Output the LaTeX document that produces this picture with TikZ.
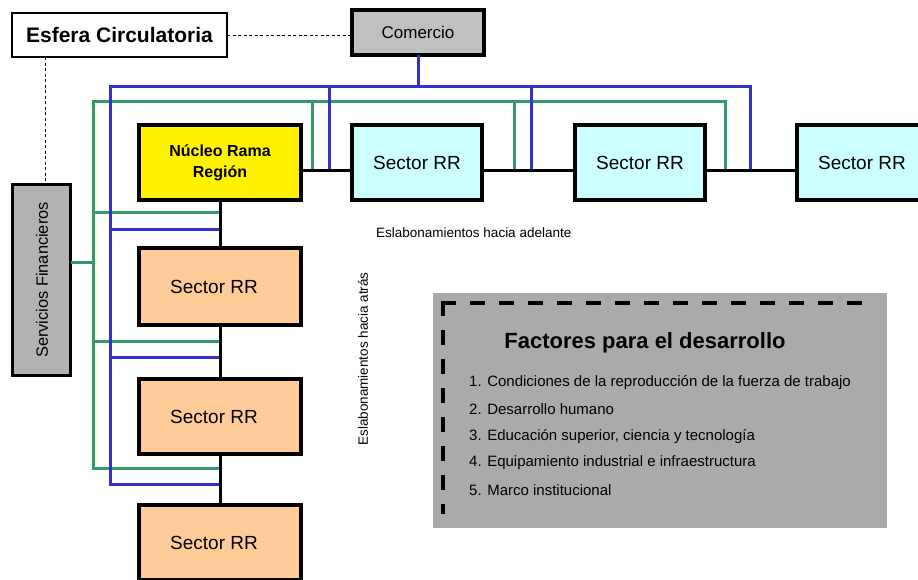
\documentclass[tikz,border=0pt]{standalone}
\usepackage{fontspec}
\setmainfont{Liberation Sans}
\definecolor{blu}{RGB}{51,51,204}
\definecolor{grn}{RGB}{51,153,102}
\definecolor{cyanf}{RGB}{204,255,255}
\definecolor{orangef}{RGB}{255,204,153}
\definecolor{grayc}{RGB}{192,192,192}
\definecolor{grays}{RGB}{178,178,178}
\definecolor{grayf}{RGB}{170,170,170}
\begin{document}
\begin{tikzpicture}[x=1pt,y=-1pt,
  box/.style={draw=black,inner sep=0pt,outer sep=0pt,align=center},
  sectc/.style={box,line width=4pt,fill=cyanf,minimum width=130pt,minimum height=75pt,font=\fontsize{19}{22}\selectfont},
  secto/.style={box,line width=4pt,fill=orangef,minimum width=162pt,minimum height=77pt,font=\fontsize{19}{22}\selectfont},
  bline/.style={draw=blu,line width=3pt},
  gline/.style={draw=grn,line width=3pt},
  chain/.style={draw=black,line width=3pt},
  thindash/.style={draw=black,line width=0.8pt,dash pattern=on 3pt off 2.5pt},
  item/.style={anchor=west,inner sep=0pt,font=\fontsize{15}{18}\selectfont}
]
\useasboundingbox (0,0) rectangle (918,579);
\clip (0,0) rectangle (918,579);

% boxes
\node[box,line width=2pt,fill=white,minimum width=215pt,minimum height=44pt,font=\fontsize{21}{25}\selectfont\bfseries] (esf) at (119.5,35) {Esfera Circulatoria};
\node[box,line width=4pt,fill=grayc,minimum width=132pt,minimum height=45pt,font=\fontsize{17}{20}\selectfont] (com) at (418,32.5) {Comercio};
\node[box,line width=3pt,fill=grays,minimum width=58pt,minimum height=191pt] (serv) at (41.5,280) {};
\node[rotate=90,inner sep=0pt,font=\fontsize{16.4}{19}\selectfont] (servt) at (42,280) {Servicios Financieros};

\coordinate (dx) at (45,0);
\draw[thindash] (esf.east) -- (esf.east -| com.west);
\draw[thindash] (esf.south -| dx) -- (serv.north -| dx);

% network lines (drawn under the boxes)
\coordinate (yc) at (0,170);
\coordinate (yg) at (0,101);
\coordinate (yb) at (0,86);
\coordinate (xg) at (93,0);
\coordinate (xb) at (110,0);
\coordinate (xv) at (220,0);

% green
\draw[gline] (xv |- 0,468) -- (xg |- 0,468) -- (xg |- yg) -- (725,101) -- (725,170);
\draw[gline] (312,101) -- (312,170);
\draw[gline] (514,101) -- (514,170);
\draw[gline] (xg |- 0,212) -- (xv |- 0,212);
\draw[gline] (xg |- 0,341) -- (xv |- 0,341);
\draw[gline] (serv.east |- 0,262) -- (xg |- 0,262);

% blue
\draw[bline] (xv |- 0,484) -- (xb |- 0,484) -- (xb |- yb) -- (750,86) -- (750,170);
\draw[bline] (329,86) -- (329,170);
\draw[bline] (531,86) -- (531,170);
\draw[bline] (com.south) -- (com.south |- yb);
\draw[bline] (xb |- 0,229) -- (xv |- 0,229);
\draw[bline] (xb |- 0,357) -- (xv |- 0,357);

% main boxes
\node[box,line width=4pt,fill=yellow,minimum width=162pt,minimum height=75pt,font=\fontsize{16}{21}\selectfont\bfseries] (nuc) at (220,162.5) {Núcleo Rama\\Región};
\node[sectc] (s1) at (417,162.5) {Sector RR};
\node[sectc] (s2) at (640,162.5) {Sector RR};
\node[sectc] (s3) at (862,162.5) {Sector RR};
\node[secto] (c1) at (220,286.5) {Sector RR\hspace*{12pt}};
\node[secto,minimum height=75pt] (c2) at (220,416.5) {Sector RR\hspace*{12pt}};
\node[secto,minimum height=75pt] (c3) at (220,542.5) {Sector RR\hspace*{12pt}};

% chains
\draw[chain] (nuc.east |- yc) -- (s1.west |- yc);
\draw[chain] (s1.east |- yc) -- (s2.west |- yc);
\draw[chain] (s2.east |- yc) -- (s3.west |- yc);
\draw[chain] (nuc.south) -- (c1.north);
\draw[chain] (c1.south) -- (c2.north);
\draw[chain] (c2.south) -- (c3.north);

% labels
\node[anchor=west,inner sep=0pt,font=\fontsize{13.5}{16}\selectfont] (adel) at (376,233) {Eslabonamientos hacia adelante};
\node[rotate=90,inner sep=0pt,font=\fontsize{13.5}{16}\selectfont] (atr) at (363,359) {Eslabonamientos hacia atrás};

% factores
\node[fill=grayf,inner sep=0pt,minimum width=454pt,minimum height=235pt] (fac) at (660,410.5) {};
\draw[black,line width=3.5pt,dash pattern=on 15pt off 14pt] (441.25,303) -- (868,303);
\draw[black,line width=3.5pt,dash pattern=on 15pt off 14pt] (443,301.25) -- (443,514);
\node[inner sep=0pt,font=\fontsize{22}{26}\selectfont\bfseries] (fact) at (645,343) {Factores para el desarrollo};
\node[item] (i1) at (469,383) {1. Condiciones de la reproducción de la fuerza de trabajo};
\node[item] (i2) at (469,409) {2. Desarrollo humano};
\node[item] (i3) at (469,437) {3. Educación superior, ciencia y tecnología};
\node[item] (i4) at (469,463) {4. Equipamiento industrial e infraestructura};
\node[item] (i5) at (469,490) {5. Marco institucional};
\end{tikzpicture}
\end{document}
